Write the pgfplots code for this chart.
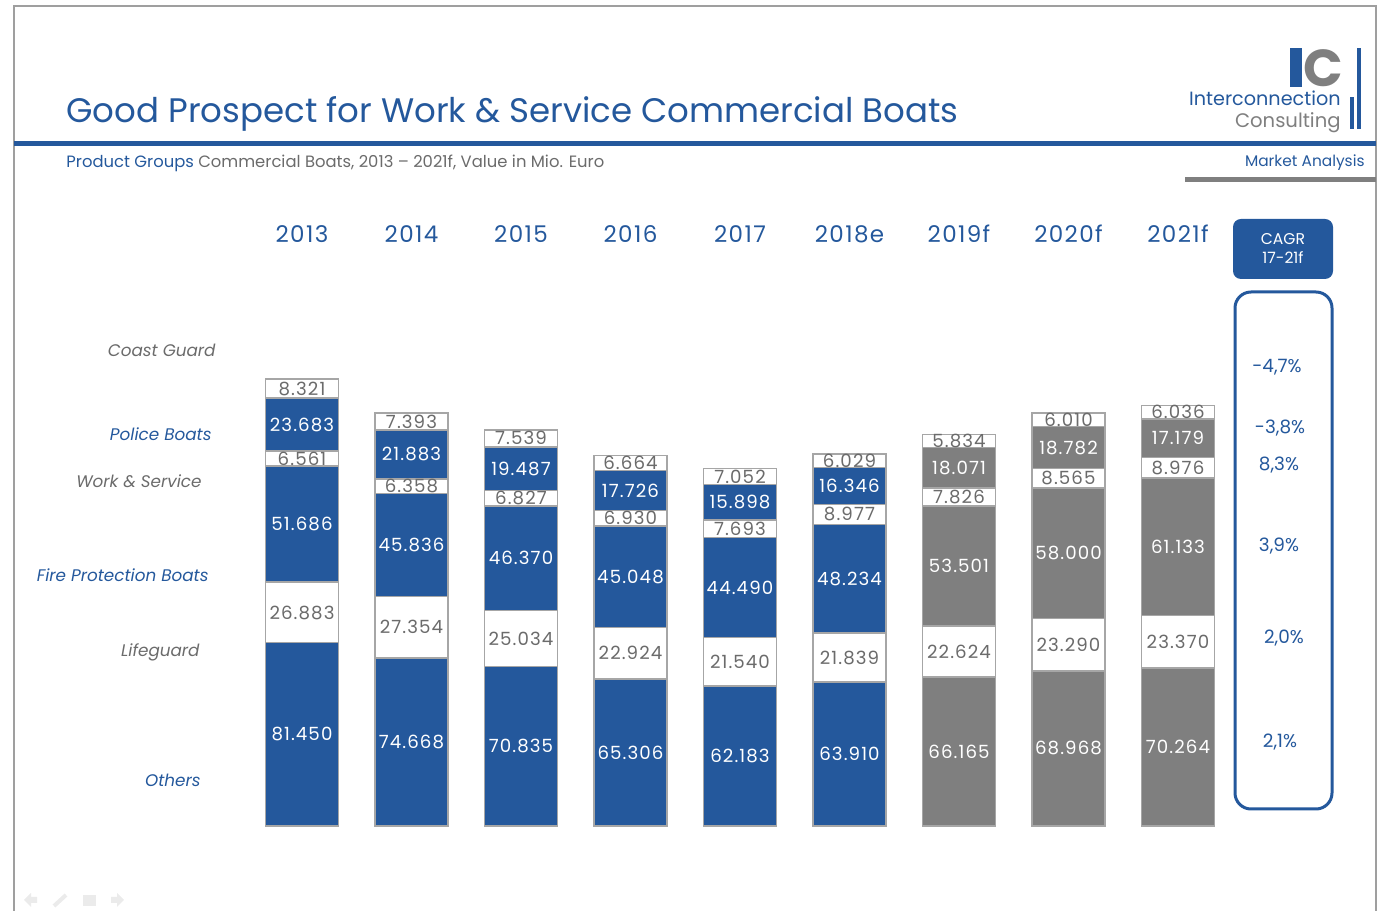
\documentclass[border=0pt]{standalone}
\usepackage{pgfplots}
\pgfplotsset{compat=1.18}
\usepackage{pgfplotstable}
\usepackage{fontspec}
\setmainfont{Poppins}
\newfontfamily\spaced{Poppins}[LetterSpace=6]

\definecolor{icblue}{HTML}{24589C}
\definecolor{icgray}{HTML}{7F7F7F}
\definecolor{txtgray}{HTML}{6B6B6B}
\definecolor{edge}{HTML}{A6A6A6}

% Mio. Euro, bottom segment first
\pgfplotstableread{
x  others life   fire   work  police coast
0  81.450 26.883 51.686 6.561 23.683 8.321
1  74.668 27.354 45.836 6.358 21.883 7.393
2  70.835 25.034 46.370 6.827 19.487 7.539
3  65.306 22.924 45.048 6.930 17.726 6.664
4  62.183 21.540 44.490 7.693 15.898 7.052
5  63.910 21.839 48.234 8.977 16.346 6.029
}\actual
\pgfplotstableread{
x  others life   fire   work  police coast
6  66.165 22.624 53.501 7.826 18.071 5.834
7  68.968 23.290 58.000 8.565 18.782 6.010
8  70.264 23.370 61.133 8.976 17.179 6.036
}\forecast

\pgfplotsset{
  boats/.style={
    ybar stacked, bar width=36.5pt,
    scale only axis, width=492.75pt, height=281.25pt,
    xmin=-0.5, xmax=8.5, ymin=0, ymax=250,
    hide axis, clip=false,
    at={(123.625pt,42.5pt)}, anchor=south west,
    point meta=rawy,
    nodes near coords={\pgfmathprintnumber[fixed,fixed zerofill,precision=3,1000 sep={},assume math mode=true]{\pgfplotspointmeta}},
    every node near coord/.append style={font=\spaced\fontsize{9.1}{10}\selectfont, anchor=center, inner sep=0pt},
  },
  full/.style={fill=#1, draw=edge, line width=0.75pt, every node near coord/.append style={text=white}},
  empty/.style={fill=white, draw=edge, line width=0.75pt, every node near coord/.append style={text=txtgray}},
}

\begin{document}
\begin{tikzpicture}
\path[use as bounding box] (0,0) rectangle (689pt,455.5pt);

% everything but the bars, in pixels from the top-left corner
\begin{scope}[x=0.5pt,y=-0.5pt,shift={(0,-911)}]
% slide frame
\draw[gray!75, line width=1pt] (14,915) -- (14,6) -- (1376,6) -- (1376,915);

% title and subtitle
\node[anchor=base west, inner sep=0pt, text=icblue, font=\fontsize{17}{18}\selectfont] at (66,123)
  {Good Prospect for Work \& Service Commercial Boats};
\fill[icblue] (14,141) rectangle (1376,146);
\node[anchor=base west, inner sep=0pt, text=txtgray, font=\fontsize{8.2}{9}\selectfont] at (66,168)
  {\textcolor{icblue}{Product Groups} Commercial Boats, 2013 -- 2021f, Value in Mio. Euro};

% logo
\fill[icblue] (1290,48) rectangle (1302,87);
\node[anchor=base west, inner sep=0pt, text=icgray, font=\fontsize{26}{26}\selectfont\bfseries] at (1303,87) {C};
\fill[icblue] (1350,97) rectangle (1354,129);
\fill[icblue] (1357,48) rectangle (1361,129);
\node[anchor=base east, inner sep=0pt, text=icblue, font=\fontsize{9.6}{10}\selectfont] at (1341,106) {Interconnection};
\node[anchor=base east, inner sep=0pt, text=icgray, font=\fontsize{9.8}{10}\selectfont] at (1341,128) {Consulting};
\node[anchor=base east, inner sep=0pt, text=icblue, font=\fontsize{7.7}{9}\selectfont] at (1365,167) {Market Analysis};
\fill[icgray] (1185,177) rectangle (1376,182);

% faint slide navigation icons
\begin{scope}[black!8]
\fill (24,900) -- (31,893) -- (31,897) -- (37,897) -- (37,903) -- (31,903) -- (31,907) -- cycle;
\draw[line width=2pt] (54,906) -- (66,895);
\fill (83,895) rectangle (96,906);
\fill (124,900) -- (117,893) -- (117,897) -- (111,897) -- (111,903) -- (117,903) -- (117,907) -- cycle;
\end{scope}

% year headers
\foreach \yr [count=\i from 0] in {2013,2014,2015,2016,2017,2018e,2019f,2020f,2021f}
  \node[anchor=base, inner sep=0pt, text=icblue, font=\spaced\fontsize{11.5}{12}\selectfont] at (302+109.5*\i,243) {\yr};

% category names
\begin{scope}[font=\fontsize{8.4}{9}\selectfont\itshape, inner sep=0pt]
\node[anchor=east, text=txtgray] at (216,350) {Coast Guard};
\node[anchor=east, text=icblue]  at (212,434) {Police Boats};
\node[anchor=east, text=txtgray] at (202,481) {Work \& Service};
\node[anchor=east, text=icblue]  at (209,575) {Fire Protection Boats};
\node[anchor=east, text=txtgray] at (200,652) {Lifeguard};
\node[anchor=east, text=icblue]  at (201,780) {Others};
\end{scope}

% CAGR column
\fill[icblue, rounded corners=4pt] (1233,219) rectangle (1333,279);
\node[text=white, inner sep=0pt, align=center, font=\fontsize{7.8}{9.5}\selectfont] at (1283,248) {CAGR\\17-21f};
\draw[icblue, line width=1.5pt, rounded corners=8pt] (1235,292) rectangle (1332,809);
\begin{scope}[text=icblue, inner sep=0pt, font=\fontsize{9.2}{10}\selectfont]
\node at (1277,367) {-4,7\%};
\node at (1280,428) {-3,8\%};
\node at (1279,465) {8,3\%};
\node at (1279,546) {3,9\%};
\node at (1284,638) {2,0\%};
\node at (1280,742) {2,1\%};
\end{scope}
\end{scope}

% bars: actual years in blue
\begin{axis}[boats]
\addplot[full=icblue] table[x=x,y=others] {\actual};
\addplot[empty] table[x=x,y=life] {\actual};
\addplot[full=icblue] table[x=x,y=fire] {\actual};
\addplot[empty] table[x=x,y=work] {\actual};
\addplot[full=icblue] table[x=x,y=police] {\actual};
\addplot[empty] table[x=x,y=coast] {\actual};
\end{axis}
% bars: estimate and forecast years in grey
\begin{axis}[boats]
\addplot[full=icgray] table[x=x,y=others] {\forecast};
\addplot[empty] table[x=x,y=life] {\forecast};
\addplot[full=icgray] table[x=x,y=fire] {\forecast};
\addplot[empty] table[x=x,y=work] {\forecast};
\addplot[full=icgray] table[x=x,y=police] {\forecast};
\addplot[empty] table[x=x,y=coast] {\forecast};
\end{axis}
\end{tikzpicture}
\end{document}
